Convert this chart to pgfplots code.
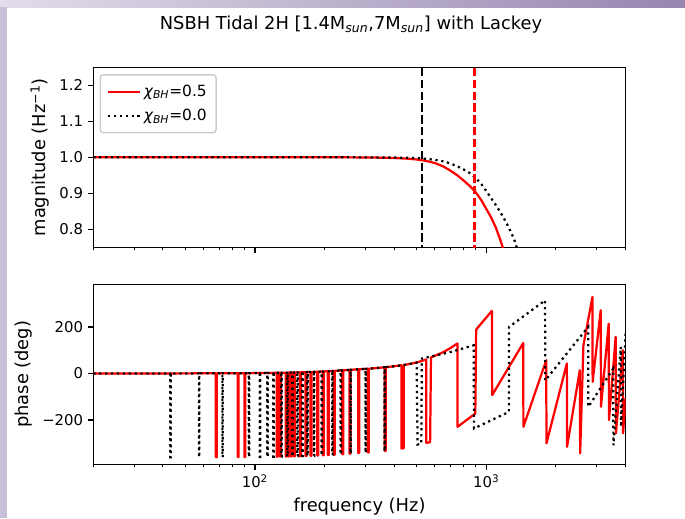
\documentclass[border=0pt]{standalone}
\usepackage{fontspec}
\setmainfont{DejaVu Sans}
\usepackage{pgfplots}
\pgfplotsset{compat=1.18}

\definecolor{bandside}{RGB}{200,192,214}
\definecolor{bandleft}{RGB}{226,221,234}
\definecolor{bandright}{RGB}{150,134,176}

\tikzset{
  solidred/.style={red, line width=1.56pt, line join=round},
  dottedblack/.style={black, line width=1.56pt, dash pattern=on 1.56pt off 2.57pt},
  dashedline/.style={line width=1.56pt, dash pattern=on 5.77pt off 2.5pt},
}

\begin{document}
\begin{tikzpicture}
\path[use as bounding box] (0pt,0pt) rectangle (479.5pt,362.6pt);
\fill[white] (0pt,0pt) rectangle (479.5pt,362.6pt);
\shade[left color=bandleft, right color=bandright] (0pt,357.7pt) rectangle (479.5pt,362.6pt);
\fill[bandside] (0pt,0pt) rectangle (4.9pt,357.7pt);

\node[font=\fontsize{12.5}{14}\selectfont] at (245.7pt,345.1pt)
  {NSBH Tidal 2H [1.4M\textsubscript{\itshape sun},7M\textsubscript{\itshape sun}] with Lackey};

% magnitude
\begin{axis}[
  scale only axis, width=372.68pt, height=126pt,
  xmode=log, xmin=20, xmax=4010,
  axis line style={line width=0.83pt},
  major tick style={black, line width=0.83pt},
  minor tick style={black, line width=0.62pt},
  tick align=outside, xtick pos=left, ytick pos=left,
  major tick length=3.64pt, minor tick length=2.08pt,
  xtick={100,1000},
  minor xtick={20,30,40,50,60,70,80,90,200,300,400,500,600,700,800,900,2000,3000,4000},
  tick label style={font=\fontsize{10.4}{12}\selectfont},
  label style={font=\fontsize{12.5}{14}\selectfont},
  at={(65.31pt,189.49pt)}, anchor=south west,
  ymin=0.75, ymax=1.25,
  ytick={0.8,0.9,1.0,1.1,1.2}, yticklabels={0.8,0.9,1.0,1.1,1.2},
  xticklabels={},
  ylabel={magnitude (Hz\textsuperscript{−1})},
  legend image code/.code={\draw[#1] (0pt,0pt) -- (22.4pt,0pt);},
  legend cell align=left,
  legend style={at={(0.012,0.962)}, anchor=north west,
    draw=black!20, line width=1pt, rounded corners=2pt,
    fill=white, fill opacity=0.8, text opacity=1, draw opacity=1,
    font=\fontsize{10.8}{12}\selectfont, row sep=3.5pt,
    inner xsep=4.5pt, inner ysep=5pt},
]
\addplot[solidred] coordinates {
  (20,1.0) (100,1.0) (200,1.0) (300,0.9997) (350,0.999) (400,0.998)
  (450,0.9965) (500,0.994) (550,0.990) (600,0.984) (650,0.975) (700,0.963)
  (750,0.950) (800,0.935) (850,0.920) (900,0.903) (950,0.882) (1000,0.857)
  (1050,0.833) (1100,0.805) (1150,0.771) (1200,0.734) (1250,0.69)
};
\addlegendentry{{\itshape χ\textsubscript{BH}}=0.5}
\addplot[dottedblack] coordinates {
  (20,1.0) (200,1.0) (300,0.9998) (400,0.9993) (500,0.998) (528,0.997)
  (600,0.993) (650,0.989) (700,0.983) (750,0.975) (800,0.966) (850,0.956)
  (889,0.9455) (950,0.927) (1004,0.905) (1075,0.877) (1130,0.856)
  (1190,0.832) (1250,0.806) (1311,0.777) (1334,0.764) (1400,0.72) (1450,0.69)
};
\addlegendentry{{\itshape χ\textsubscript{BH}}=0.0}
\addplot[black, dashedline, forget plot] coordinates {(527.8,0.7) (527.8,1.3)};
\addplot[red, dashedline, forget plot] coordinates {(890,0.7) (890,1.3)};
\end{axis}

% phase
\begin{axis}[
  scale only axis, width=372.68pt, height=126pt,
  xmode=log, xmin=20, xmax=4010,
  axis line style={line width=0.83pt},
  major tick style={black, line width=0.83pt},
  minor tick style={black, line width=0.62pt},
  tick align=outside, xtick pos=left, ytick pos=left,
  major tick length=3.64pt, minor tick length=2.08pt,
  xtick={100,1000},
  minor xtick={20,30,40,50,60,70,80,90,200,300,400,500,600,700,800,900,2000,3000,4000},
  tick label style={font=\fontsize{10.4}{12}\selectfont},
  label style={font=\fontsize{12.5}{14}\selectfont},
  at={(65.31pt,37.59pt)}, anchor=south west,
  ymin=-390, ymax=383,
  ytick={-200,0,200}, yticklabels={−200,0,200},
  xticklabels={10\textsuperscript{2},10\textsuperscript{3}},
  xlabel={frequency (Hz)},
  ylabel={phase (deg)},
]
\addplot[solidred] coordinates {
  (20,0) (50,0.5)
  (67.7,0.7)(67.7,-359.3)(68.4,-359.3)(68.4,0.7)
  (84.2,1.1)(84.2,-358.9)(85.0,-358.9)(85.0,1.1)
  (90.0,1.3)(90.0,-358.7)(90.9,-358.7)(90.9,1.3)
  (124.1,2.8)(124.1,-357.2)(125.3,-357.2)(125.3,2.8)
  (128.2,3.0)(128.2,-357.0)(129.5,-357.0)(129.5,3.0)
  (135.7,3.5)(135.7,-356.5)(137.0,-356.5)(137.0,3.5)
  (138.8,3.7)(138.8,-356.3)(140.2,-356.3)(140.2,3.7)
  (142.6,4.0)(142.6,-356.0)(144.0,-356.0)(144.0,4.0)
  (147.3,4.3)(147.3,-355.7)(148.8,-355.7)(148.8,4.3)
  (156.4,5.0)(156.4,-355.0)(158.0,-355.0)(158.0,5.0)
  (165.5,5.7)(165.5,-354.3)(167.2,-354.3)(167.2,5.7)
  (173.9,6.4)(173.9,-353.6)(175.6,-353.6)(175.6,6.4)
  (185.9,7.6)(185.9,-352.4)(187.8,-352.4)(187.8,7.6)
  (196.6,8.7)(196.6,-351.3)(198.6,-351.3)(198.6,8.7)
  (206.6,9.7)(206.6,-350.3)(208.7,-350.3)(208.7,9.7)
  (219.3,11.1)(219.3,-348.9)(221.5,-348.9)(221.5,11.1)
  (238.4,13.4)(238.4,-346.6)(240.8,-346.6)(240.8,13.4)
  (256.2,15.6)(256.2,-344.4)(258.8,-344.4)(258.8,15.6)
  (279.4,18.4)(279.4,-341.6)(282.2,-341.6)(282.2,18.4)
  (307.4,20.3)(307.4,-339.7)(310.5,-339.7)(310.5,20.3)
  (350,25)
  (364,26.9)(364,-333.1)(367.6,-333.1)(367.6,26.9)
  (400,31)
  (430,35.6)(430,-322)(440,-321)(440,36.5)
  (450,38)(500,47)(550,60)
  (551,-298)(572,-295)(577,69)(600,76)(650,91)(700,109)(751,129)
  (752,-229)(897,-172)(905,189)(1058,269)(1061,-93)(1446,131)(1448,-229)
  (1818,57)(1822,-300)(2232,43)(2236,-315)(2540,14)(2548,-343)(2632,121)
  (2880,329)(2885,-36)(3127,272)(3135,-143)(3385,214)(3395,-200)(3628,157)
  (3640,-257)(3898,100)(3905,-257)(4010,-106)
};
\addplot[dottedblack] coordinates {
  (20,0)
  (43.0,0.3)(43.0,-359.7)(43.2,-359.7)(43.2,0.3)
  (57.3,0.5)(57.3,-359.5)(57.5,-359.5)(57.5,0.5)
  (72.3,0.8)(72.3,-359.2)(72.6,-359.2)(72.6,0.8)
  (94.0,1.4)(94.0,-358.6)(94.4,-358.6)(94.4,1.4)
  (105.0,1.8)(105.0,-358.2)(105.4,-358.2)(105.4,1.8)
  (113.0,2.2)(113.0,-357.8)(113.5,-357.8)(113.5,2.2)
  (120.1,2.6)(120.1,-357.4)(120.6,-357.4)(120.6,2.6)
  (130.0,3.1)(130.0,-356.9)(130.5,-356.9)(130.5,3.1)
  (138.0,3.6)(138.0,-356.4)(138.6,-356.4)(138.6,3.6)
  (145.0,4.1)(145.0,-355.9)(145.6,-355.9)(145.6,4.1)
  (152.4,4.7)(152.4,-355.3)(153.0,-355.3)(153.0,4.7)
  (160.2,5.3)(160.2,-354.7)(160.8,-354.7)(160.8,5.3)
  (168.3,6.0)(168.3,-354.0)(169.0,-354.0)(169.0,6.0)
  (179.8,7.0)(179.8,-353.0)(180.5,-353.0)(180.5,7.0)
  (194.1,8.4)(194.1,-351.6)(194.9,-351.6)(194.9,8.4)
  (215.8,10.8)(215.8,-349.2)(216.7,-349.2)(216.7,10.8)
  (234.4,12.9)(234.4,-347.1)(235.3,-347.1)(235.3,12.9)
  (258.8,16.1)(258.8,-343.9)(259.8,-343.9)(259.8,16.1)
  (300.5,19.5)(300.5,-340.5)(301.7,-340.5)(301.7,19.5)
  (362.9,26.8)(362.9,-333.2)(364.4,-333.2)(364.4,26.8)
  (400,31)(450,38)(500,47)
  (505,-305)(524,-302)(527,64)(700,92)(883,121)(885,-236)(1253,-165)
  (1256,200)(1797,314)(1800,-30)(2759,200)(2765,-143)(3540,21)(3548,-308)
  (3820,114)(3828,-229)(4010,186)
};
\end{axis}
\end{tikzpicture}
\end{document}
